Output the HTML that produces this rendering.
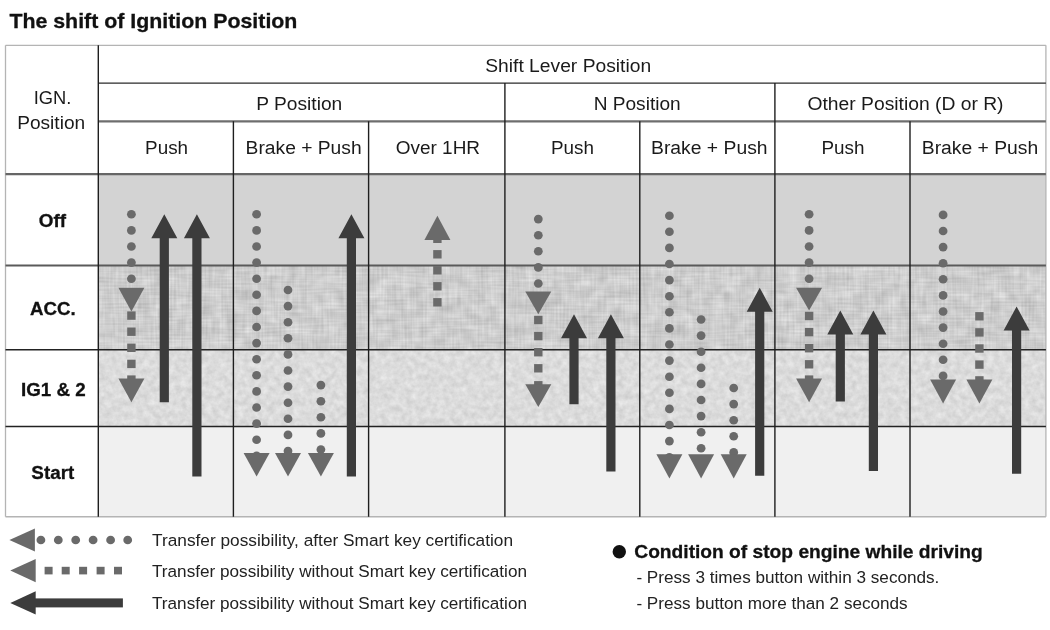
<!DOCTYPE html>
<html><head><meta charset="utf-8"><title>The shift of Ignition Position</title>
<style>
html,body{margin:0;padding:0;background:#fff;}
body{width:1050px;height:630px;overflow:hidden;font-family:"Liberation Sans",sans-serif;}
svg{display:block;font-family:"Liberation Sans",sans-serif;filter:blur(0.35px);}
</style></head><body>
<svg width="1050" height="630" viewBox="0 0 1050 630">
<defs>
<filter id="tex1" x="0" y="0" width="100%" height="100%" color-interpolation-filters="sRGB">
<feTurbulence type="fractalNoise" baseFrequency="0.55 0.035" numOctaves="1" seed="3" result="a"/>
<feColorMatrix in="a" type="matrix" values="1 0 0 0 0  1 0 0 0 0  1 0 0 0 0  0 0 0 0 1" result="ga"/>
<feTurbulence type="fractalNoise" baseFrequency="0.035 0.55" numOctaves="1" seed="11" result="b"/>
<feColorMatrix in="b" type="matrix" values="1 0 0 0 0  1 0 0 0 0  1 0 0 0 0  0 0 0 0 1" result="gb"/>
<feTurbulence type="fractalNoise" baseFrequency="0.08" numOctaves="2" seed="5" result="c"/>
<feColorMatrix in="c" type="matrix" values="1 0 0 0 0  1 0 0 0 0  1 0 0 0 0  0 0 0 0 1" result="gc"/>
<feComposite in="ga" in2="gb" operator="arithmetic" k1="0" k2="0.5" k3="0.5" k4="0" result="w"/>
<feComposite in="w" in2="gc" operator="arithmetic" k1="0" k2="0.235" k3="0.155" k4="0.61" result="g"/>
<feColorMatrix in="g" type="matrix" values="1 0 0 0 0  1 0 0 0 0  1 0 0 0 0  0 0 0 0 1"/>
</filter>
<filter id="tex2" x="0" y="0" width="100%" height="100%" color-interpolation-filters="sRGB">
<feTurbulence type="fractalNoise" baseFrequency="0.16" numOctaves="3" seed="7" result="c"/>
<feColorMatrix in="c" type="matrix" values="0.15 0 0 0 0.786  0.15 0 0 0 0.786  0.15 0 0 0 0.786  0 0 0 0 1"/>
</filter>
</defs>
<rect width="1050" height="630" fill="#fff"/>
<rect x="98.3" y="174.2" width="947.6000000000001" height="91.19999999999999" fill="#d3d3d3"/>
<rect x="98.3" y="265.4" width="947.6000000000001" height="84.40000000000003" fill="#cecece"/>
<rect x="98.3" y="265.4" width="947.6000000000001" height="84.40000000000003" fill="#cecece" filter="url(#tex1)"/>
<rect x="98.3" y="349.8" width="947.6000000000001" height="76.69999999999999" fill="#dbdbdb"/>
<rect x="98.3" y="349.8" width="947.6000000000001" height="76.69999999999999" fill="#dbdbdb" filter="url(#tex2)"/>
<rect x="98.3" y="426.5" width="947.6000000000001" height="90.20000000000005" fill="#f0f0f0"/>
<line x1="5.5" y1="45.3" x2="1045.9" y2="45.3" stroke="#b4b4b4" stroke-width="1.3"/>
<line x1="5.5" y1="516.7" x2="1045.9" y2="516.7" stroke="#b4b4b4" stroke-width="1.6"/>
<line x1="5.5" y1="45.3" x2="5.5" y2="516.7" stroke="#b4b4b4" stroke-width="1.3"/>
<line x1="1045.9" y1="45.3" x2="1045.9" y2="516.7" stroke="#b4b4b4" stroke-width="1.3"/>
<line x1="98.3" y1="83.1" x2="1045.9" y2="83.1" stroke="#2a2a2a" stroke-width="1.3"/>
<line x1="98.3" y1="121.3" x2="1045.9" y2="121.3" stroke="#6e6e6e" stroke-width="2.2"/>
<line x1="5.5" y1="174.2" x2="1045.9" y2="174.2" stroke="#666" stroke-width="2.2"/>
<line x1="5.5" y1="265.4" x2="1045.9" y2="265.4" stroke="#5a5a5a" stroke-width="2.0"/>
<line x1="5.5" y1="349.8" x2="1045.9" y2="349.8" stroke="#222" stroke-width="1.4"/>
<line x1="5.5" y1="426.5" x2="1045.9" y2="426.5" stroke="#222" stroke-width="1.4"/>
<line x1="98.3" y1="45.3" x2="98.3" y2="516.7" stroke="#1e1e1e" stroke-width="1.4"/>
<line x1="233.4" y1="121.3" x2="233.4" y2="516.7" stroke="#1e1e1e" stroke-width="1.4"/>
<line x1="368.6" y1="121.3" x2="368.6" y2="516.7" stroke="#1e1e1e" stroke-width="1.4"/>
<line x1="639.8" y1="121.3" x2="639.8" y2="516.7" stroke="#1e1e1e" stroke-width="1.4"/>
<line x1="910.0" y1="121.3" x2="910.0" y2="516.7" stroke="#1e1e1e" stroke-width="1.4"/>
<line x1="504.9" y1="83.1" x2="504.9" y2="516.7" stroke="#1e1e1e" stroke-width="1.4"/>
<line x1="774.9" y1="83.1" x2="774.9" y2="516.7" stroke="#1e1e1e" stroke-width="1.4"/>
<ellipse cx="131.4" cy="214.3" rx="4.3999999999999995" ry="4.3" fill="#6a6a6a"/>
<ellipse cx="131.4" cy="230.4" rx="4.3999999999999995" ry="4.3" fill="#6a6a6a"/>
<ellipse cx="131.4" cy="246.5" rx="4.3999999999999995" ry="4.3" fill="#6a6a6a"/>
<ellipse cx="131.4" cy="262.6" rx="4.3999999999999995" ry="4.3" fill="#6a6a6a"/>
<ellipse cx="131.4" cy="278.7" rx="4.3999999999999995" ry="4.3" fill="#6a6a6a"/>
<path d="M118.4 287.7 L144.4 287.7 L131.4 311.4 Z" fill="#6a6a6a"/>
<rect x="127.2" y="311.4" width="8.4" height="8.4" fill="#6a6a6a"/>
<rect x="127.2" y="327.5" width="8.4" height="8.4" fill="#6a6a6a"/>
<rect x="127.2" y="343.6" width="8.4" height="8.4" fill="#6a6a6a"/>
<rect x="127.2" y="359.7" width="8.4" height="8.4" fill="#6a6a6a"/>
<rect x="127.2" y="375.40000000000003" width="8.4" height="4" fill="#6a6a6a"/>
<path d="M118.4 378.6 L144.4 378.6 L131.4 402.3 Z" fill="#6a6a6a"/>
<path d="M164.3 214.3 L177.3 238.3 L168.9 238.3 L168.9 402.3 L159.7 402.3 L159.7 238.3 L151.3 238.3 Z" fill="#3c3c3c"/>
<path d="M196.9 214.3 L209.9 238.3 L201.5 238.3 L201.5 476.6 L192.3 476.6 L192.3 238.3 L183.9 238.3 Z" fill="#3c3c3c"/>
<ellipse cx="256.6" cy="214.3" rx="4.3999999999999995" ry="4.3" fill="#6a6a6a"/>
<ellipse cx="256.6" cy="230.4" rx="4.3999999999999995" ry="4.3" fill="#6a6a6a"/>
<ellipse cx="256.6" cy="246.5" rx="4.3999999999999995" ry="4.3" fill="#6a6a6a"/>
<ellipse cx="256.6" cy="262.6" rx="4.3999999999999995" ry="4.3" fill="#6a6a6a"/>
<ellipse cx="256.6" cy="278.7" rx="4.3999999999999995" ry="4.3" fill="#6a6a6a"/>
<ellipse cx="256.6" cy="294.8" rx="4.3999999999999995" ry="4.3" fill="#6a6a6a"/>
<ellipse cx="256.6" cy="310.9" rx="4.3999999999999995" ry="4.3" fill="#6a6a6a"/>
<ellipse cx="256.6" cy="327.0" rx="4.3999999999999995" ry="4.3" fill="#6a6a6a"/>
<ellipse cx="256.6" cy="343.1" rx="4.3999999999999995" ry="4.3" fill="#6a6a6a"/>
<ellipse cx="256.6" cy="359.2" rx="4.3999999999999995" ry="4.3" fill="#6a6a6a"/>
<ellipse cx="256.6" cy="375.3" rx="4.3999999999999995" ry="4.3" fill="#6a6a6a"/>
<ellipse cx="256.6" cy="391.4" rx="4.3999999999999995" ry="4.3" fill="#6a6a6a"/>
<ellipse cx="256.6" cy="407.5" rx="4.3999999999999995" ry="4.3" fill="#6a6a6a"/>
<ellipse cx="256.6" cy="423.6" rx="4.3999999999999995" ry="4.3" fill="#6a6a6a"/>
<ellipse cx="256.6" cy="439.7" rx="4.3999999999999995" ry="4.3" fill="#6a6a6a"/>
<ellipse cx="256.6" cy="455.8" rx="4.3999999999999995" ry="4.3" fill="#6a6a6a"/>
<path d="M243.60000000000002 452.9 L269.6 452.9 L256.6 476.6 Z" fill="#6a6a6a"/>
<ellipse cx="288.0" cy="290.0" rx="4.3999999999999995" ry="4.3" fill="#6a6a6a"/>
<ellipse cx="288.0" cy="306.1" rx="4.3999999999999995" ry="4.3" fill="#6a6a6a"/>
<ellipse cx="288.0" cy="322.2" rx="4.3999999999999995" ry="4.3" fill="#6a6a6a"/>
<ellipse cx="288.0" cy="338.3" rx="4.3999999999999995" ry="4.3" fill="#6a6a6a"/>
<ellipse cx="288.0" cy="354.4" rx="4.3999999999999995" ry="4.3" fill="#6a6a6a"/>
<ellipse cx="288.0" cy="370.5" rx="4.3999999999999995" ry="4.3" fill="#6a6a6a"/>
<ellipse cx="288.0" cy="386.6" rx="4.3999999999999995" ry="4.3" fill="#6a6a6a"/>
<ellipse cx="288.0" cy="402.7" rx="4.3999999999999995" ry="4.3" fill="#6a6a6a"/>
<ellipse cx="288.0" cy="418.8" rx="4.3999999999999995" ry="4.3" fill="#6a6a6a"/>
<ellipse cx="288.0" cy="434.9" rx="4.3999999999999995" ry="4.3" fill="#6a6a6a"/>
<ellipse cx="288.0" cy="451.0" rx="4.3999999999999995" ry="4.3" fill="#6a6a6a"/>
<path d="M275.0 452.9 L301.0 452.9 L288.0 476.6 Z" fill="#6a6a6a"/>
<ellipse cx="320.9" cy="385.1" rx="4.3999999999999995" ry="4.3" fill="#6a6a6a"/>
<ellipse cx="320.9" cy="401.2" rx="4.3999999999999995" ry="4.3" fill="#6a6a6a"/>
<ellipse cx="320.9" cy="417.3" rx="4.3999999999999995" ry="4.3" fill="#6a6a6a"/>
<ellipse cx="320.9" cy="433.4" rx="4.3999999999999995" ry="4.3" fill="#6a6a6a"/>
<ellipse cx="320.9" cy="449.5" rx="4.3999999999999995" ry="4.3" fill="#6a6a6a"/>
<path d="M307.9 452.9 L333.9 452.9 L320.9 476.6 Z" fill="#6a6a6a"/>
<path d="M351.4 214.3 L364.4 238.3 L356.0 238.3 L356.0 476.6 L346.8 476.6 L346.8 238.3 L338.4 238.3 Z" fill="#3c3c3c"/>
<path d="M424.4 240.0 L450.4 240.0 L437.4 215.7 Z" fill="#6a6a6a"/>
<rect x="433.2" y="250.1" width="8.4" height="8.4" fill="#6a6a6a"/>
<rect x="433.2" y="266.1" width="8.4" height="8.4" fill="#6a6a6a"/>
<rect x="433.2" y="282.1" width="8.4" height="8.4" fill="#6a6a6a"/>
<rect x="433.2" y="298.1" width="8.4" height="8.4" fill="#6a6a6a"/>
<rect x="433.2" y="238" width="8.4" height="5" fill="#6a6a6a"/>
<ellipse cx="538.3" cy="219.1" rx="4.3999999999999995" ry="4.3" fill="#6a6a6a"/>
<ellipse cx="538.3" cy="235.2" rx="4.3999999999999995" ry="4.3" fill="#6a6a6a"/>
<ellipse cx="538.3" cy="251.3" rx="4.3999999999999995" ry="4.3" fill="#6a6a6a"/>
<ellipse cx="538.3" cy="267.4" rx="4.3999999999999995" ry="4.3" fill="#6a6a6a"/>
<ellipse cx="538.3" cy="283.5" rx="4.3999999999999995" ry="4.3" fill="#6a6a6a"/>
<path d="M525.3 291.4 L551.3 291.4 L538.3 314.3 Z" fill="#6a6a6a"/>
<rect x="534.0999999999999" y="315.8" width="8.4" height="8.4" fill="#6a6a6a"/>
<rect x="534.0999999999999" y="331.9" width="8.4" height="8.4" fill="#6a6a6a"/>
<rect x="534.0999999999999" y="348.0" width="8.4" height="8.4" fill="#6a6a6a"/>
<rect x="534.0999999999999" y="364.1" width="8.4" height="8.4" fill="#6a6a6a"/>
<rect x="534.0999999999999" y="381.1" width="8.4" height="4" fill="#6a6a6a"/>
<path d="M525.3 384.3 L551.3 384.3 L538.3 407.1 Z" fill="#6a6a6a"/>
<path d="M574.0 314.3 L587.0 338.3 L578.6 338.3 L578.6 404.3 L569.4 404.3 L569.4 338.3 L561.0 338.3 Z" fill="#3c3c3c"/>
<path d="M610.9 314.3 L623.9 338.3 L615.5 338.3 L615.5 471.4 L606.3 471.4 L606.3 338.3 L597.9 338.3 Z" fill="#3c3c3c"/>
<ellipse cx="669.4" cy="215.7" rx="4.3999999999999995" ry="4.3" fill="#6a6a6a"/>
<ellipse cx="669.4" cy="231.8" rx="4.3999999999999995" ry="4.3" fill="#6a6a6a"/>
<ellipse cx="669.4" cy="247.9" rx="4.3999999999999995" ry="4.3" fill="#6a6a6a"/>
<ellipse cx="669.4" cy="264.0" rx="4.3999999999999995" ry="4.3" fill="#6a6a6a"/>
<ellipse cx="669.4" cy="280.1" rx="4.3999999999999995" ry="4.3" fill="#6a6a6a"/>
<ellipse cx="669.4" cy="296.2" rx="4.3999999999999995" ry="4.3" fill="#6a6a6a"/>
<ellipse cx="669.4" cy="312.3" rx="4.3999999999999995" ry="4.3" fill="#6a6a6a"/>
<ellipse cx="669.4" cy="328.4" rx="4.3999999999999995" ry="4.3" fill="#6a6a6a"/>
<ellipse cx="669.4" cy="344.5" rx="4.3999999999999995" ry="4.3" fill="#6a6a6a"/>
<ellipse cx="669.4" cy="360.6" rx="4.3999999999999995" ry="4.3" fill="#6a6a6a"/>
<ellipse cx="669.4" cy="376.7" rx="4.3999999999999995" ry="4.3" fill="#6a6a6a"/>
<ellipse cx="669.4" cy="392.8" rx="4.3999999999999995" ry="4.3" fill="#6a6a6a"/>
<ellipse cx="669.4" cy="408.9" rx="4.3999999999999995" ry="4.3" fill="#6a6a6a"/>
<ellipse cx="669.4" cy="425.0" rx="4.3999999999999995" ry="4.3" fill="#6a6a6a"/>
<ellipse cx="669.4" cy="441.1" rx="4.3999999999999995" ry="4.3" fill="#6a6a6a"/>
<ellipse cx="669.4" cy="457.2" rx="4.3999999999999995" ry="4.3" fill="#6a6a6a"/>
<path d="M656.4 454.3 L682.4 454.3 L669.4 478.6 Z" fill="#6a6a6a"/>
<ellipse cx="701.1" cy="319.5" rx="4.3999999999999995" ry="4.3" fill="#6a6a6a"/>
<ellipse cx="701.1" cy="335.6" rx="4.3999999999999995" ry="4.3" fill="#6a6a6a"/>
<ellipse cx="701.1" cy="351.7" rx="4.3999999999999995" ry="4.3" fill="#6a6a6a"/>
<ellipse cx="701.1" cy="367.8" rx="4.3999999999999995" ry="4.3" fill="#6a6a6a"/>
<ellipse cx="701.1" cy="383.9" rx="4.3999999999999995" ry="4.3" fill="#6a6a6a"/>
<ellipse cx="701.1" cy="400.0" rx="4.3999999999999995" ry="4.3" fill="#6a6a6a"/>
<ellipse cx="701.1" cy="416.1" rx="4.3999999999999995" ry="4.3" fill="#6a6a6a"/>
<ellipse cx="701.1" cy="432.2" rx="4.3999999999999995" ry="4.3" fill="#6a6a6a"/>
<ellipse cx="701.1" cy="448.3" rx="4.3999999999999995" ry="4.3" fill="#6a6a6a"/>
<path d="M688.1 454.3 L714.1 454.3 L701.1 478.6 Z" fill="#6a6a6a"/>
<ellipse cx="733.7" cy="388.0" rx="4.3999999999999995" ry="4.3" fill="#6a6a6a"/>
<ellipse cx="733.7" cy="404.1" rx="4.3999999999999995" ry="4.3" fill="#6a6a6a"/>
<ellipse cx="733.7" cy="420.2" rx="4.3999999999999995" ry="4.3" fill="#6a6a6a"/>
<ellipse cx="733.7" cy="436.3" rx="4.3999999999999995" ry="4.3" fill="#6a6a6a"/>
<ellipse cx="733.7" cy="452.4" rx="4.3999999999999995" ry="4.3" fill="#6a6a6a"/>
<path d="M720.7 454.3 L746.7 454.3 L733.7 478.6 Z" fill="#6a6a6a"/>
<path d="M759.7 287.7 L772.7 311.7 L764.3 311.7 L764.3 475.7 L755.1 475.7 L755.1 311.7 L746.7 311.7 Z" fill="#3c3c3c"/>
<ellipse cx="809.1" cy="214.3" rx="4.3999999999999995" ry="4.3" fill="#6a6a6a"/>
<ellipse cx="809.1" cy="230.4" rx="4.3999999999999995" ry="4.3" fill="#6a6a6a"/>
<ellipse cx="809.1" cy="246.5" rx="4.3999999999999995" ry="4.3" fill="#6a6a6a"/>
<ellipse cx="809.1" cy="262.6" rx="4.3999999999999995" ry="4.3" fill="#6a6a6a"/>
<ellipse cx="809.1" cy="278.7" rx="4.3999999999999995" ry="4.3" fill="#6a6a6a"/>
<path d="M796.1 287.7 L822.1 287.7 L809.1 310.6 Z" fill="#6a6a6a"/>
<rect x="804.9" y="311.8" width="8.4" height="8.4" fill="#6a6a6a"/>
<rect x="804.9" y="327.9" width="8.4" height="8.4" fill="#6a6a6a"/>
<rect x="804.9" y="344.0" width="8.4" height="8.4" fill="#6a6a6a"/>
<rect x="804.9" y="360.1" width="8.4" height="8.4" fill="#6a6a6a"/>
<rect x="804.9" y="375.40000000000003" width="8.4" height="4" fill="#6a6a6a"/>
<path d="M796.1 378.6 L822.1 378.6 L809.1 402.3 Z" fill="#6a6a6a"/>
<path d="M840.3 310.6 L853.3 334.6 L844.9 334.6 L844.9 401.4 L835.7 401.4 L835.7 334.6 L827.3 334.6 Z" fill="#3c3c3c"/>
<path d="M873.4 310.6 L886.4 334.6 L878.0 334.6 L878.0 470.9 L868.8 470.9 L868.8 334.6 L860.4 334.6 Z" fill="#3c3c3c"/>
<ellipse cx="943.1" cy="214.9" rx="4.3999999999999995" ry="4.3" fill="#6a6a6a"/>
<ellipse cx="943.1" cy="231.0" rx="4.3999999999999995" ry="4.3" fill="#6a6a6a"/>
<ellipse cx="943.1" cy="247.1" rx="4.3999999999999995" ry="4.3" fill="#6a6a6a"/>
<ellipse cx="943.1" cy="263.2" rx="4.3999999999999995" ry="4.3" fill="#6a6a6a"/>
<ellipse cx="943.1" cy="279.3" rx="4.3999999999999995" ry="4.3" fill="#6a6a6a"/>
<ellipse cx="943.1" cy="295.4" rx="4.3999999999999995" ry="4.3" fill="#6a6a6a"/>
<ellipse cx="943.1" cy="311.5" rx="4.3999999999999995" ry="4.3" fill="#6a6a6a"/>
<ellipse cx="943.1" cy="327.6" rx="4.3999999999999995" ry="4.3" fill="#6a6a6a"/>
<ellipse cx="943.1" cy="343.7" rx="4.3999999999999995" ry="4.3" fill="#6a6a6a"/>
<ellipse cx="943.1" cy="359.8" rx="4.3999999999999995" ry="4.3" fill="#6a6a6a"/>
<ellipse cx="943.1" cy="375.9" rx="4.3999999999999995" ry="4.3" fill="#6a6a6a"/>
<path d="M930.1 379.4 L956.1 379.4 L943.1 403.4 Z" fill="#6a6a6a"/>
<rect x="975.1999999999999" y="312.1" width="8.4" height="8.4" fill="#6a6a6a"/>
<rect x="975.1999999999999" y="328.2" width="8.4" height="8.4" fill="#6a6a6a"/>
<rect x="975.1999999999999" y="344.3" width="8.4" height="8.4" fill="#6a6a6a"/>
<rect x="975.1999999999999" y="360.4" width="8.4" height="8.4" fill="#6a6a6a"/>
<rect x="975.1999999999999" y="376.2" width="8.4" height="4" fill="#6a6a6a"/>
<path d="M966.4 379.4 L992.4 379.4 L979.4 403.4 Z" fill="#6a6a6a"/>
<path d="M1016.6 306.6 L1029.6 330.6 L1021.2 330.6 L1021.2 473.7 L1012.0 473.7 L1012.0 330.6 L1003.6 330.6 Z" fill="#3c3c3c"/>
<path d="M9.4 540.0 L34.9 528.4 L34.9 551.6 Z" fill="#6a6a6a"/>
<ellipse cx="40.9" cy="540" rx="4.3999999999999995" ry="4.3" fill="#6a6a6a"/>
<ellipse cx="58.3" cy="540" rx="4.3999999999999995" ry="4.3" fill="#6a6a6a"/>
<ellipse cx="75.7" cy="540" rx="4.3999999999999995" ry="4.3" fill="#6a6a6a"/>
<ellipse cx="93.1" cy="540" rx="4.3999999999999995" ry="4.3" fill="#6a6a6a"/>
<ellipse cx="110.6" cy="540" rx="4.3999999999999995" ry="4.3" fill="#6a6a6a"/>
<ellipse cx="127.7" cy="540" rx="4.3999999999999995" ry="4.3" fill="#6a6a6a"/>
<path d="M10.3 570.6 L35.7 559.0 L35.7 582.2 Z" fill="#6a6a6a"/>
<rect x="44.6" y="566.8000000000001" width="8" height="7.6" fill="#6a6a6a"/>
<rect x="61.7" y="566.8000000000001" width="8" height="7.6" fill="#6a6a6a"/>
<rect x="79.1" y="566.8000000000001" width="8" height="7.6" fill="#6a6a6a"/>
<rect x="96.6" y="566.8000000000001" width="8" height="7.6" fill="#6a6a6a"/>
<rect x="114.0" y="566.8000000000001" width="8" height="7.6" fill="#6a6a6a"/>
<path d="M10.3 602.9 L35.7 591.3 L35.7 614.5 Z" fill="#3c3c3c"/>
<rect x="34" y="598.4" width="88.9" height="9" fill="#3c3c3c"/>
<circle cx="619.3" cy="551.7" r="6.7" fill="#111"/>
<text x="9.4" y="28.4" font-size="20.8" font-weight="bold" stroke="#111" stroke-width="0.3" text-anchor="start" fill="#111" textLength="288" lengthAdjust="spacingAndGlyphs">The shift of Ignition Position</text>
<text x="568.2" y="71.5" font-size="18.8" text-anchor="middle" fill="#1a1a1a" textLength="166" lengthAdjust="spacingAndGlyphs">Shift Lever Position</text>
<text x="52.6" y="104.3" font-size="18.8" text-anchor="middle" fill="#1a1a1a" textLength="37.7" lengthAdjust="spacingAndGlyphs">IGN.</text>
<text x="51.2" y="128.9" font-size="18.8" text-anchor="middle" fill="#1a1a1a" textLength="68" lengthAdjust="spacingAndGlyphs">Position</text>
<text x="299.3" y="109.6" font-size="18.8" text-anchor="middle" fill="#1a1a1a" textLength="86" lengthAdjust="spacingAndGlyphs">P Position</text>
<text x="637.2" y="109.6" font-size="18.8" text-anchor="middle" fill="#1a1a1a" textLength="87" lengthAdjust="spacingAndGlyphs">N Position</text>
<text x="905.5" y="109.6" font-size="18.8" text-anchor="middle" fill="#1a1a1a" textLength="196" lengthAdjust="spacingAndGlyphs">Other Position (D or R)</text>
<text x="166.6" y="154.4" font-size="18.8" text-anchor="middle" fill="#1a1a1a" textLength="43" lengthAdjust="spacingAndGlyphs">Push</text>
<text x="303.6" y="154.2" font-size="18.8" text-anchor="middle" fill="#1a1a1a" textLength="116" lengthAdjust="spacingAndGlyphs">Brake + Push</text>
<text x="437.9" y="154.2" font-size="18.8" text-anchor="middle" fill="#1a1a1a" textLength="84.3" lengthAdjust="spacingAndGlyphs">Over 1HR</text>
<text x="572.5" y="154.4" font-size="18.8" text-anchor="middle" fill="#1a1a1a" textLength="43" lengthAdjust="spacingAndGlyphs">Push</text>
<text x="709.3" y="154.2" font-size="18.8" text-anchor="middle" fill="#1a1a1a" textLength="116.5" lengthAdjust="spacingAndGlyphs">Brake + Push</text>
<text x="843.0" y="154.4" font-size="18.8" text-anchor="middle" fill="#1a1a1a" textLength="43" lengthAdjust="spacingAndGlyphs">Push</text>
<text x="980.0" y="154.2" font-size="18.8" text-anchor="middle" fill="#1a1a1a" textLength="116.5" lengthAdjust="spacingAndGlyphs">Brake + Push</text>
<text x="52.4" y="226.9" font-size="18.8" font-weight="bold" stroke="#111" stroke-width="0.3" text-anchor="middle" fill="#111" textLength="27.2" lengthAdjust="spacingAndGlyphs">Off</text>
<text x="52.8" y="315.0" font-size="18.8" font-weight="bold" stroke="#111" stroke-width="0.3" text-anchor="middle" fill="#111" textLength="45.7" lengthAdjust="spacingAndGlyphs">ACC.</text>
<text x="53.3" y="395.7" font-size="18.8" font-weight="bold" stroke="#111" stroke-width="0.3" text-anchor="middle" fill="#111" textLength="64.7" lengthAdjust="spacingAndGlyphs">IG1 &amp; 2</text>
<text x="52.8" y="478.6" font-size="18.8" font-weight="bold" stroke="#111" stroke-width="0.3" text-anchor="middle" fill="#111" textLength="42.9" lengthAdjust="spacingAndGlyphs">Start</text>
<text x="152" y="545.8" font-size="16.8" text-anchor="start" fill="#222" textLength="361" lengthAdjust="spacingAndGlyphs">Transfer possibility, after Smart key certification</text>
<text x="152" y="576.8" font-size="16.8" text-anchor="start" fill="#222" textLength="375" lengthAdjust="spacingAndGlyphs">Transfer possibility without Smart key certification</text>
<text x="152" y="608.8" font-size="16.8" text-anchor="start" fill="#222" textLength="375" lengthAdjust="spacingAndGlyphs">Transfer possibility without Smart key certification</text>
<text x="634.3" y="557.8" font-size="19.0" font-weight="bold" stroke="#111" stroke-width="0.3" text-anchor="start" fill="#111" textLength="348.5" lengthAdjust="spacingAndGlyphs">Condition of stop engine while driving</text>
<text x="636.4" y="583.2" font-size="16.8" text-anchor="start" fill="#222" textLength="303" lengthAdjust="spacingAndGlyphs">- Press 3 times button within 3 seconds.</text>
<text x="636.4" y="608.6" font-size="16.8" text-anchor="start" fill="#222" textLength="271.3" lengthAdjust="spacingAndGlyphs">- Press button more than 2 seconds</text>
</svg>
</body></html>
